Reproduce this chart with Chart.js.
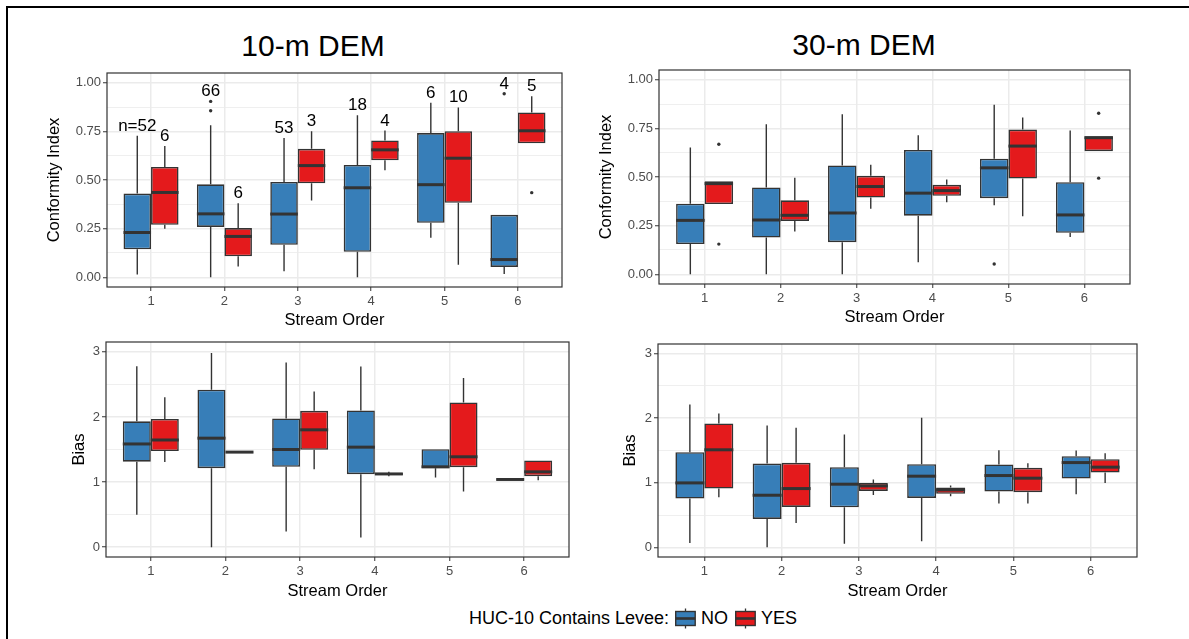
<!DOCTYPE html>
<html>
<head>
<meta charset="utf-8">
<title>Conformity Index and Bias by Stream Order</title>
<script src="https://cdn.jsdelivr.net/npm/chart.js@4.4.1/dist/chart.umd.min.js"></script>
<style>
html, body { margin: 0; padding: 0; background: #fff; }
body { width: 1189px; height: 639px; position: relative; overflow: hidden;
       font-family: "Liberation Sans", Arial, Helvetica, sans-serif; }
#frame { position: absolute; left: 6px; top: 6px; width: 1300px; height: 700px;
         border-left: 2px solid #000; border-top: 2px solid #000; }
.panel { position: absolute; }
.heading { position: absolute; font-size: 30px; line-height: 30px; color: #000;
           transform: translate(-50%, -50%); white-space: nowrap; }
.lg { position: absolute; font-size: 18px; line-height: 18px; color: #000;
      transform: translateY(-50%); white-space: nowrap; }
.key { position: absolute; top: 608px; }
</style>
</head>
<body>
<div id="frame"></div>

<div class="heading" style="left:313px; top:46px;">10-m DEM</div>
<div class="heading" style="left:864px; top:45px;">30-m DEM</div>

<div class="panel" id="p1"><canvas id="c1"></canvas></div>
<div class="panel" id="p2"><canvas id="c2"></canvas></div>
<div class="panel" id="p3"><canvas id="c3"></canvas></div>
<div class="panel" id="p4"><canvas id="c4"></canvas></div>

<div class="lg" style="left:469px; top:618px;">HUC-10 Contains Levee:</div>
<svg class="key" style="left:675px;" width="21" height="21">
  <line x1="10.5" y1="0.5" x2="10.5" y2="20.5" stroke="#333" stroke-width="1.3"/>
  <rect x="0.7" y="3.5" width="19.5" height="14" fill="#377EB8" stroke="#333" stroke-width="1.4"/>
  <line x1="0.7" y1="10.5" x2="20.2" y2="10.5" stroke="#333" stroke-width="2.6"/>
</svg>
<div class="lg" style="left:701px; top:618px;">NO</div>
<svg class="key" style="left:734.5px;" width="21" height="21">
  <line x1="10.5" y1="0.5" x2="10.5" y2="20.5" stroke="#333" stroke-width="1.3"/>
  <rect x="0.7" y="3.5" width="19.5" height="14" fill="#E41A1C" stroke="#333" stroke-width="1.4"/>
  <line x1="0.7" y1="10.5" x2="20.2" y2="10.5" stroke="#333" stroke-width="2.6"/>
</svg>
<div class="lg" style="left:761px; top:618px;">YES</div>

<script>
// stream orders on the x axis
const streamOrder = [1, 2, 3, 4, 5, 6];

// every row: [lower whisker, q1, median, q3, upper whisker]
const ci10No = [
  [0.014, 0.144, 0.230, 0.430, 0.727],
  [0.000, 0.259, 0.326, 0.478, 0.782],
  [0.031, 0.167, 0.325, 0.490, 0.716],
  [0.000, 0.131, 0.460, 0.577, 0.833],
  [0.203, 0.280, 0.476, 0.741, 0.897],
  [0.017, 0.053, 0.091, 0.321, 0.321]
];
const ci10NoOut = [[], [0.904, 0.856], [], [], [], [0.943]];
const ci10Yes = [
  [0.249, 0.270, 0.436, 0.567, 0.675],
  [0.055, 0.108, 0.210, 0.253, 0.381],
  [0.395, 0.483, 0.574, 0.660, 0.751],
  [0.550, 0.601, 0.655, 0.703, 0.754],
  [0.064, 0.383, 0.612, 0.751, 0.873],
  [0.689, 0.689, 0.753, 0.847, 0.930]
];
const ci10YesOut = [[], [], [], [], [], [0.435]];
// number of basins in each group
const n10No = [52, 66, 53, 18, 6, 4];
const n10Yes = [6, 6, 3, 4, 10, 5];

const ci30No = [
  [0.000, 0.155, 0.277, 0.363, 0.651],
  [0.000, 0.189, 0.279, 0.446, 0.771],
  [0.000, 0.165, 0.315, 0.559, 0.823],
  [0.062, 0.301, 0.417, 0.639, 0.714],
  [0.355, 0.391, 0.547, 0.594, 0.871],
  [0.191, 0.213, 0.305, 0.473, 0.739]
];
const ci30NoOut = [[], [], [], [], [0.053], []];
const ci30Yes = [
  [0.361, 0.361, 0.466, 0.478, 0.478],
  [0.220, 0.274, 0.303, 0.380, 0.496],
  [0.337, 0.394, 0.451, 0.506, 0.563],
  [0.370, 0.403, 0.430, 0.460, 0.487],
  [0.298, 0.492, 0.659, 0.744, 0.806],
  [0.633, 0.633, 0.702, 0.709, 0.709]
];
const ci30YesOut = [[0.668, 0.155], [], [], [], [], [0.828, 0.494]];

const bias10No = [
  [0.497, 1.313, 1.585, 1.933, 2.779],
  [0.000, 1.213, 1.674, 2.417, 2.980],
  [0.241, 1.234, 1.500, 1.976, 2.837],
  [0.148, 1.121, 1.536, 2.099, 2.775],
  [1.070, 1.213, 1.234, 1.505, 1.505],
  [1.035, 1.035, 1.040, 1.045, 1.045]
];
const bias10Yes = [
  [1.308, 1.477, 1.646, 1.969, 2.303],
  [1.455, 1.455, 1.460, 1.465, 1.465],
  [1.198, 1.495, 1.802, 2.094, 2.391],
  [1.090, 1.110, 1.125, 1.140, 1.160],
  [0.855, 1.229, 1.388, 2.222, 2.596],
  [1.029, 1.091, 1.157, 1.331, 1.331]
];

const bias30No = [
  [0.067, 0.755, 0.998, 1.474, 2.214],
  [0.000, 0.440, 0.807, 1.298, 1.888],
  [0.057, 0.621, 0.978, 1.242, 1.749],
  [0.093, 0.766, 1.102, 1.288, 2.007],
  [0.678, 0.864, 1.112, 1.283, 1.505],
  [0.822, 1.065, 1.313, 1.412, 1.501]
];
const bias30Yes = [
  [0.776, 0.910, 1.511, 1.919, 2.074],
  [0.378, 0.626, 0.910, 1.309, 1.852],
  [0.812, 0.874, 0.952, 0.998, 1.050],
  [0.792, 0.828, 0.890, 0.926, 0.957],
  [0.678, 0.854, 1.071, 1.231, 1.304],
  [0.998, 1.158, 1.242, 1.366, 1.459]
];
const noOut = [[], [], [], [], [], []];

// y ticks (major ones get a label)
const ciTicks = [0, 0.125, 0.25, 0.375, 0.5, 0.625, 0.75, 0.875, 1];
const biasTicks = [0, 0.5, 1, 1.5, 2, 2.5, 3];

const NO_COL = '#377EB8', YES_COL = '#E41A1C', INK = '#333333';

Chart.defaults.font.family = '"Liberation Sans", Arial, Helvetica, sans-serif';
Chart.defaults.color = '#4d4d4d';

// whiskers behind the boxes, medians / outliers / counts / border on top
const boxParts = {
  id: 'boxParts',
  beforeDatasetsDraw(chart) {
    const ctx = chart.ctx, y = chart.scales.y;
    ctx.save();
    ctx.strokeStyle = INK;
    ctx.lineWidth = 1.4;
    chart.data.datasets.forEach((ds, i) => {
      chart.getDatasetMeta(i).data.forEach((bar, j) => {
        const s = ds.stats[j];
        ctx.beginPath();
        ctx.moveTo(bar.x, y.getPixelForValue(s[0]));
        ctx.lineTo(bar.x, y.getPixelForValue(s[1]));
        ctx.moveTo(bar.x, y.getPixelForValue(s[3]));
        ctx.lineTo(bar.x, y.getPixelForValue(s[4]));
        ctx.stroke();
      });
    });
    ctx.restore();
  },
  afterDatasetsDraw(chart) {
    const ctx = chart.ctx, y = chart.scales.y, a = chart.chartArea;
    ctx.save();
    chart.data.datasets.forEach((ds, i) => {
      chart.getDatasetMeta(i).data.forEach((bar, j) => {
        const s = ds.stats[j];
        const half = bar.width / 2;
        // median
        ctx.strokeStyle = INK;
        ctx.lineWidth = 3;
        ctx.beginPath();
        ctx.moveTo(bar.x - half, y.getPixelForValue(s[2]));
        ctx.lineTo(bar.x + half, y.getPixelForValue(s[2]));
        ctx.stroke();
        // outliers
        ctx.fillStyle = INK;
        ds.outliers[j].forEach(v => {
          ctx.beginPath();
          ctx.arc(bar.x, y.getPixelForValue(v), 1.7, 0, Math.PI * 2);
          ctx.fill();
        });
        // group sizes above the highest point
        if (ds.counts) {
          const top = Math.max(s[4], ...ds.outliers[j]);
          const txt = (i === 0 && j === 0 ? 'n=' : '') + ds.counts[j];
          ctx.fillStyle = '#000';
          ctx.font = '17px "Liberation Sans", Arial, sans-serif';
          ctx.textAlign = 'center';
          ctx.textBaseline = 'middle';
          ctx.fillText(txt, bar.x, y.getPixelForValue(top + 0.05));
        }
      });
    });
    ctx.strokeStyle = INK;
    ctx.lineWidth = 1.2;
    ctx.strokeRect(a.left, a.top, a.right - a.left, a.bottom - a.top);
    ctx.restore();
  }
};

function boxChart(canvasId, box, yTitle, yMin, yMax, yTicks, isMajor, fmt, series) {
  const el = document.getElementById(canvasId);
  const wrap = el.parentNode;
  wrap.style.left = box.left + 'px';
  wrap.style.top = box.top + 'px';
  wrap.style.width = (box.right - box.left) + 'px';
  wrap.style.height = (box.bottom - box.top) + 'px';

  const titleFont = { size: 16.5 };
  new Chart(el, {
    type: 'bar',
    data: {
      datasets: series.map(s => ({
        label: s.label,
        data: streamOrder.map((x, j) => ({ x: x, y: [s.stats[j][1], s.stats[j][3]] })),
        stats: s.stats,
        outliers: s.out,
        counts: s.counts,
        backgroundColor: s.color,
        borderColor: INK,
        borderWidth: 1.6,
        borderSkipped: false,
        categoryPercentage: 0.75,
        barPercentage: 1
      }))
    },
    options: {
      responsive: true,
      maintainAspectRatio: false,
      animation: false,
      events: [],
      layout: {
        autoPadding: false,
        padding: { top: box.areaT - box.top, right: box.right - box.areaR, left: 0, bottom: 0 }
      },
      plugins: { legend: { display: false }, tooltip: { enabled: false } },
      scales: {
        x: {
          type: 'linear',
          min: 0.4,
          max: 6.6,
          offset: false,
          border: { display: false },
          grid: { offset: false, color: '#ebebeb', lineWidth: 1.5, tickColor: INK, tickLength: 4, tickWidth: 1 },
          ticks: { font: { size: 13 }, padding: 3, autoSkip: false, maxRotation: 0 },
          afterBuildTicks: s => { s.ticks = streamOrder.map(v => ({ value: v })); },
          afterFit: s => { s.height = box.bottom - box.areaB; },
          title: { display: true, text: 'Stream Order', color: '#000', font: titleFont, padding: { top: 0, bottom: 0 } }
        },
        y: {
          min: yMin,
          max: yMax,
          border: { display: false },
          grid: {
            color: '#ebebeb',
            lineWidth: c => isMajor(c.tick.value) ? 1.5 : 0.8,
            tickColor: c => isMajor(c.tick.value) ? INK : 'rgba(0,0,0,0)',
            tickLength: 4,
            tickWidth: 1
          },
          ticks: { font: { size: 13 }, padding: 2, autoSkip: false, callback: v => isMajor(v) ? fmt(v) : '' },
          afterBuildTicks: s => { s.ticks = yTicks.map(v => ({ value: v })); },
          afterFit: s => { s.width = box.areaL - box.left; },
          title: { display: true, text: yTitle, color: '#000', font: titleFont, padding: { top: 6, bottom: 0 } }
        }
      }
    },
    plugins: [boxParts]
  });
}

const ciMajor = v => Math.abs(v * 4 - Math.round(v * 4)) < 1e-9;
const biasMajor = v => Math.abs(v - Math.round(v)) < 1e-9;
const ciFmt = v => v.toFixed(2);
const biasFmt = v => String(Math.round(v));

boxChart('c1', { left: 39, top: 60, right: 570, bottom: 330, areaL: 107, areaT: 73, areaR: 562, areaB: 287 },
  'Conformity Index', -0.05, 1.05, ciTicks, ciMajor, ciFmt, [
    { label: 'NO', stats: ci10No, out: ci10NoOut, counts: n10No, color: NO_COL },
    { label: 'YES', stats: ci10Yes, out: ci10YesOut, counts: n10Yes, color: YES_COL }
  ]);

boxChart('c2', { left: 591, top: 58, right: 1138, bottom: 327, areaL: 659, areaT: 70, areaR: 1130, areaB: 284 },
  'Conformity Index', -0.05, 1.05, ciTicks, ciMajor, ciFmt, [
    { label: 'NO', stats: ci30No, out: ci30NoOut, color: NO_COL },
    { label: 'YES', stats: ci30Yes, out: ci30YesOut, color: YES_COL }
  ]);

boxChart('c3', { left: 64, top: 332, right: 578, bottom: 601, areaL: 106, areaT: 342, areaR: 569, areaB: 557 },
  'Bias', -0.15, 3.15, biasTicks, biasMajor, biasFmt, [
    { label: 'NO', stats: bias10No, out: noOut, color: NO_COL },
    { label: 'YES', stats: bias10Yes, out: noOut, color: YES_COL }
  ]);

boxChart('c4', { left: 615, top: 332, right: 1146, bottom: 601, areaL: 658, areaT: 344, areaR: 1137, areaB: 557 },
  'Bias', -0.15, 3.15, biasTicks, biasMajor, biasFmt, [
    { label: 'NO', stats: bias30No, out: noOut, color: NO_COL },
    { label: 'YES', stats: bias30Yes, out: noOut, color: YES_COL }
  ]);
</script>
</body>
</html>
